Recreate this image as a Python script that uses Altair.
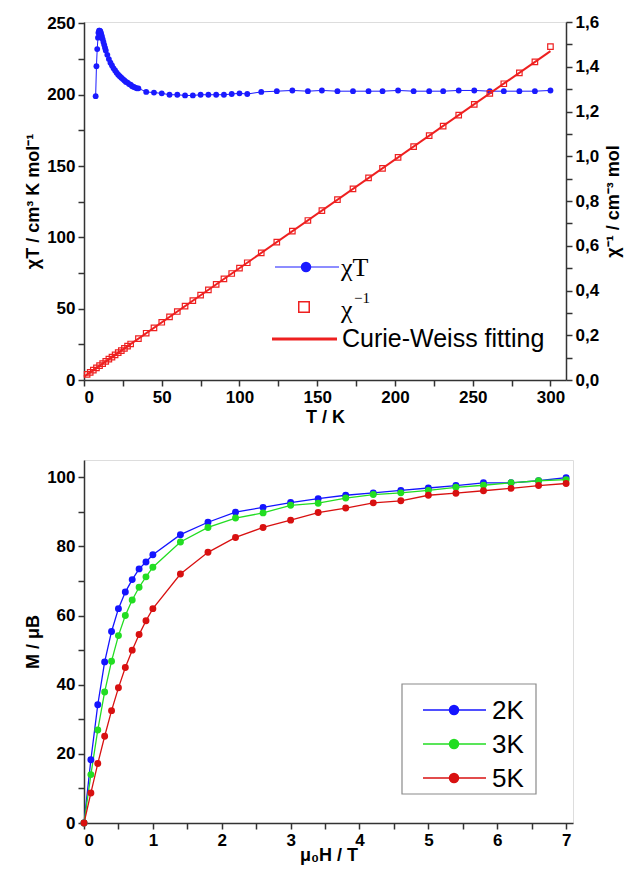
import altair as alt
import pandas as pd

# ---------------- top panel data ----------------
T_chiT = [7.5, 8, 8.5, 9, 9.3, 9.7, 10, 10.5, 11, 11.5, 12, 12.5, 13, 13.5, 14,
          15, 16, 17, 18, 19, 20, 21, 22, 23, 24, 25, 26, 27, 28, 29, 30, 31, 32, 33, 34, 35,
          40, 45, 50, 55, 60, 65, 70, 75, 80, 85, 90, 95, 100, 105,
          114, 124, 134, 144, 153, 163, 173, 183, 192, 202, 212, 222, 231, 241, 251, 261, 270, 280, 290, 300]
chiT = [199, 220, 232, 240, 243.5, 245, 245, 244.5, 243, 241, 239, 237, 235, 233, 231,
        228, 225, 222.5, 220.5, 218.5, 217, 215.5, 214, 213, 212, 211, 210, 209, 208.5, 207.5, 207, 206, 205.5, 205, 204.5, 204.5,
        202, 201.5, 201, 200, 200, 199.5, 199.5, 200, 200, 200, 200, 200.5, 201, 200.5,
        202, 202.5, 203, 202.5, 203, 202.5, 202.5, 202.5, 202.5, 203, 202.5, 202.5, 202.5, 203, 203, 202.5, 202.5, 202.5, 202.5, 203]

T_inv = [2, 4, 6, 8, 10, 12, 14, 16, 18, 20, 22, 24, 26, 28, 30,
         35, 40, 45, 50, 55, 60, 65, 70, 75, 80, 85, 90, 95, 100, 105,
         114, 124, 134, 144, 153, 163, 173, 183, 192, 202, 212, 222, 231, 241, 251, 261, 270, 280, 290, 300]
chi_inv = [0.025, 0.034, 0.044, 0.054, 0.064, 0.073, 0.083, 0.093, 0.102, 0.112, 0.122, 0.131, 0.141, 0.151, 0.161,
           0.185, 0.209, 0.233, 0.258, 0.282, 0.306, 0.330, 0.355, 0.379, 0.403, 0.427, 0.452, 0.476, 0.500, 0.524,
           0.568, 0.616, 0.665, 0.713, 0.757, 0.806, 0.854, 0.903, 0.946, 0.995, 1.043, 1.092, 1.135, 1.184, 1.232,
           1.281, 1.324, 1.373, 1.422, 1.490]

T_fit = [0, 300]
chi_fit = [0.015, 1.470]

# ---------------- bottom panel data ----------------
H = [0, 0.1, 0.2, 0.3, 0.4, 0.5, 0.6, 0.7, 0.8, 0.9, 1.0, 1.4, 1.8, 2.2, 2.6,
     3.0, 3.4, 3.8, 4.2, 4.6, 5.0, 5.4, 5.8, 6.2, 6.6, 7.0]
M_2K = [0, 18.3, 34.2, 46.6, 55.4, 62.0, 66.8, 70.4, 73.5, 75.5, 77.6, 83.4, 87.0, 89.9, 91.3,
        92.7, 93.8, 94.8, 95.5, 96.2, 96.9, 97.6, 98.4, 98.4, 99.0, 99.9]
M_3K = [0, 14.0, 26.9, 37.9, 46.8, 54.2, 60.0, 64.5, 68.2, 71.2, 74.0, 81.3, 85.5, 88.2, 89.7,
        91.9, 92.5, 94.0, 95.0, 95.5, 96.2, 97.1, 97.7, 98.4, 99.0, 99.3]
M_5K = [0, 8.7, 17.2, 25.1, 32.5, 39.1, 45.0, 50.0, 54.5, 58.5, 62.0, 72.0, 78.3, 82.6, 85.5,
        87.6, 89.8, 91.1, 92.6, 93.2, 94.8, 95.4, 96.1, 96.8, 97.6, 98.2]
series_names = ["2K", "3K", "5K"]
series_colors = ["#1414ff", "#22dd22", "#d81010"]

FONT = "Liberation Sans"
SERIF = "Liberation Serif"
BLUE = "#1a1aff"
RED = "#ee2020"
AX = "#333333"

df_chiT = pd.DataFrame({"T": T_chiT, "chiT": chiT})
df_inv = pd.DataFrame({"T": T_inv, "inv": chi_inv})
df_fit = pd.DataFrame({"T": T_fit, "inv": chi_fit})
dummy = pd.DataFrame({"a": [0]})

rows = []
for name, vals in zip(series_names, [M_2K, M_3K, M_5K]):
    for h, m in zip(H, vals):
        rows.append({"H": h, "M": m, "s": name})
df_M = pd.DataFrame(rows)

axis_common = dict(domainColor=AX, tickColor=AX, domainWidth=1.5, tickWidth=1.5, tickSize=6,
                   labelFont=FONT, labelFontSize=17, labelFontWeight="bold", labelColor="black",
                   titleFont=FONT, titleFontSize=18, titleFontWeight="bold", titleColor="black",
                   grid=False, labelPadding=3)

x_top_axis = alt.Axis(values=list(range(0, 301, 25)),
                      labelExpr="datum.value % 50 == 0 ? datum.label : ''",
                      title="T / K", titlePadding=3, **axis_common)
x_top = alt.X("T:Q", scale=alt.Scale(domain=[0, 310], nice=False, zero=False), axis=x_top_axis)

y_left_axis = alt.Axis(values=list(range(0, 251, 25)),
                       labelExpr="datum.value % 50 == 0 ? datum.label : ''",
                       title="χT / cm³ K mol⁻¹", titlePadding=4, **axis_common)
y_left = alt.Y("chiT:Q", scale=alt.Scale(domain=[0, 251], nice=False), axis=y_left_axis)

y_right_axis = alt.Axis(orient="right", values=[i / 10 for i in range(0, 17)],
                        labelExpr="round(datum.value*10) % 2 == 0 ? replace(format(datum.value, '.1f'), '.', ',') : ''",
                        title="χ⁻¹ / cm⁻³ mol", titleAngle=270, titleBaseline="top", titlePadding=6, **axis_common)
y_right = alt.Y("inv:Q", scale=alt.Scale(domain=[0, 1.6], nice=False), axis=y_right_axis)

chiT_line = alt.Chart(df_chiT).mark_line(color=BLUE, strokeWidth=1).encode(x=x_top, y=y_left)
chiT_pts = alt.Chart(df_chiT).mark_circle(color=BLUE, size=34, opacity=1).encode(x=x_top, y=y_left)
left_group = alt.layer(chiT_line, chiT_pts)

inv_pts = alt.Chart(df_inv).mark_point(shape="square", filled=False, color=RED, size=30, strokeWidth=1.2, opacity=1).encode(x=x_top, y=y_right)
fit_line = alt.Chart(df_fit).mark_line(color=RED, strokeWidth=2).encode(x=x_top, y=y_right)
right_group = alt.layer(inv_pts, fit_line)

# legend (top)
leg = [
    alt.Chart(dummy).mark_rule(color=BLUE, strokeWidth=1).encode(x=alt.value(191), x2=alt.value(255), y=alt.value(245)),
    alt.Chart(dummy).mark_circle(color=BLUE, size=110, opacity=1).encode(x=alt.value(222), y=alt.value(245)),
    alt.Chart(dummy).mark_text(text="χT", font=SERIF, fontSize=26, align="left", baseline="middle", color="black").encode(x=alt.value(257), y=alt.value(246)),
    alt.Chart(dummy).mark_point(shape="square", filled=False, color=RED, size=110, strokeWidth=1.5, opacity=1).encode(x=alt.value(220), y=alt.value(285)),
    alt.Chart(dummy).mark_text(text="χ", font=SERIF, fontSize=26, align="left", baseline="middle", color="black").encode(x=alt.value(257), y=alt.value(288)),
    alt.Chart(dummy).mark_text(text="−1", font=SERIF, fontSize=15, align="left", baseline="middle", color="black").encode(x=alt.value(270), y=alt.value(276)),
    alt.Chart(dummy).mark_rule(color=RED, strokeWidth=3).encode(x=alt.value(188), x2=alt.value(253), y=alt.value(317)),
    alt.Chart(dummy).mark_text(text="Curie-Weiss fitting", font=FONT, fontSize=25, align="left", baseline="middle", color="black").encode(x=alt.value(258), y=alt.value(317)),
]

top = alt.layer(left_group, right_group, *leg).resolve_scale(y="independent").properties(width=482, height=358)

# ---------------- bottom panel ----------------
x_bot_axis = alt.Axis(values=[i / 2 for i in range(0, 15)],
                      labelExpr="datum.value % 1 == 0 ? format(datum.value, 'd') : ''",
                      title="μ₀H / T", titlePadding=-2, **axis_common)
x_bot = alt.X("H:Q", scale=alt.Scale(domain=[0, 7.1], nice=False), axis=x_bot_axis)
y_bot_axis = alt.Axis(values=list(range(0, 101, 10)),
                      labelExpr="datum.value % 20 == 0 ? datum.label : ''",
                      title="M / μB", titlePadding=4, **axis_common)
y_bot = alt.Y("M:Q", scale=alt.Scale(domain=[0, 105], nice=False), axis=y_bot_axis)
col = alt.Color("s:N", scale=alt.Scale(domain=series_names, range=series_colors), legend=None)

m_lines = alt.Chart(df_M).mark_line(strokeWidth=1.3).encode(x=x_bot, y=y_bot, color=col, detail="s:N")
m_pts = alt.Chart(df_M).mark_circle(size=48, opacity=1).encode(x=x_bot, y=y_bot, color=col)

bleg = [alt.Chart(dummy).mark_rect(fill="white", stroke="#8a8a8a", strokeWidth=1.2).encode(
    x=alt.value(318), x2=alt.value(452), y=alt.value(224), y2=alt.value(334))]
for i, (name, c) in enumerate(zip(series_names, series_colors)):
    yy = 250 + 34 * i
    bleg.append(alt.Chart(dummy).mark_rule(color=c, strokeWidth=1.3).encode(x=alt.value(339), x2=alt.value(402), y=alt.value(yy)))
    bleg.append(alt.Chart(dummy).mark_circle(color=c, size=110, opacity=1).encode(x=alt.value(370), y=alt.value(yy)))
    bleg.append(alt.Chart(dummy).mark_text(text=name, font=FONT, fontSize=26, align="left", baseline="middle", color="black").encode(x=alt.value(408), y=alt.value(yy + 1)))

bottom = alt.layer(m_lines, m_pts, *bleg).properties(width=489, height=363)

chart = alt.vconcat(top, bottom, spacing=32).properties(
    padding={"top": 4, "left": 16, "right": 2, "bottom": 2}
).configure_view(stroke=None).configure(background="white")

chart.save("out.html", embed_options={"renderer": "svg", "actions": False})
